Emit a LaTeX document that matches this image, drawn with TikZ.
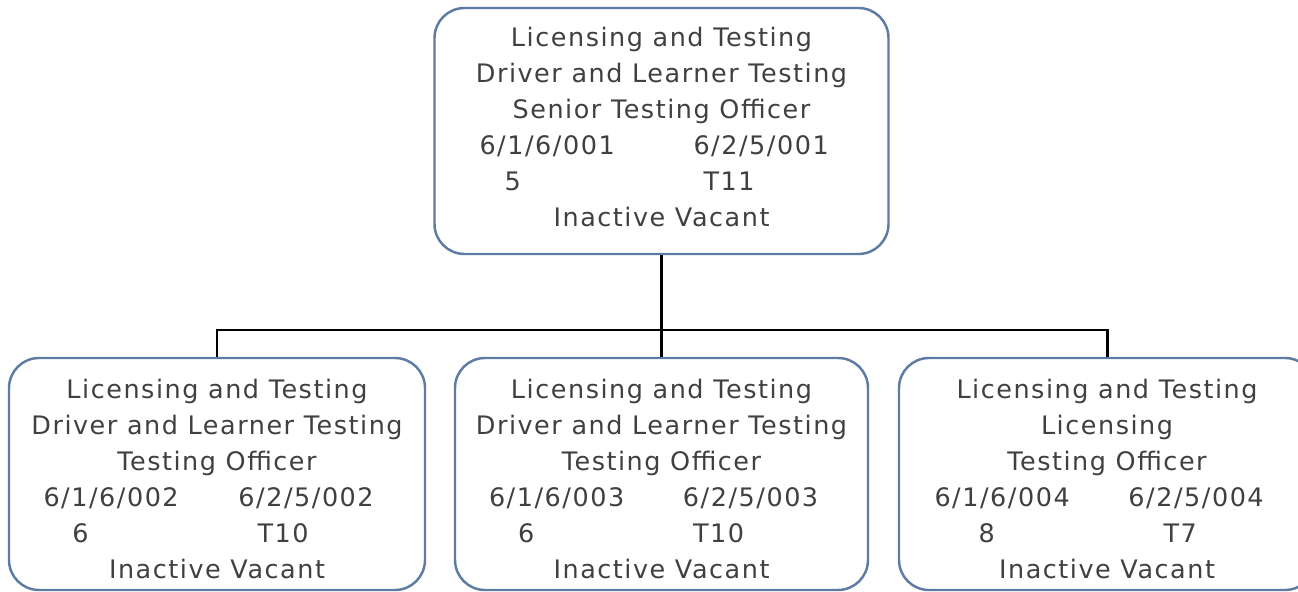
\documentclass[tikz,border=0pt]{standalone}
\usepackage{fontspec}
\setmainfont{DejaVu Sans}[LetterSpace=6]
\usepackage{tikz}

\definecolor{boxline}{RGB}{94,123,163}
\definecolor{boxtext}{RGB}{64,64,64}

% two codes on one line, each at its own offset
\newcommand{\numrow}[5]{\makebox[#1][l]{\rlap{\hspace*{#2}#3}\rlap{\hspace*{#4}#5}}}

\tikzset{
  post/.style={draw=boxline, line width=1.4pt, rounded corners=0.6cm, text=boxtext,
    align=center, inner sep=0pt, font=\fontsize{14.5}{20.5}\selectfont},
  link/.style={draw=black, line width=1.7pt},
}

\begin{document}
\begin{tikzpicture}
  \useasboundingbox (0,0) rectangle (25.96,-11.84);
  \node[post, minimum width=9.08cm, minimum height=4.92cm] (senior) at (13.23,-2.62)
    {Licensing and Testing\\Driver and Learner Testing\\Senior Testing Officer\\
     \numrow{7.28cm}{0cm}{6/1/6/001}{4.28cm}{6/2/5/001}\\
     \numrow{7.28cm}{0.5cm}{5}{4.48cm}{T11}\\Inactive Vacant\rule[-4.6pt]{0pt}{0pt}};
  \node[post, minimum width=8.32cm, minimum height=4.64cm] (left) at (4.34,-9.48)
    {\rule{0pt}{16.5pt}Licensing and Testing\\Driver and Learner Testing\\Testing Officer\\
     \numrow{6.94cm}{0cm}{6/1/6/002}{3.9cm}{6/2/5/002}\\
     \numrow{6.94cm}{0.58cm}{6}{4.28cm}{T10}\\Inactive Vacant};
  \node[post, minimum width=8.26cm, minimum height=4.64cm] (mid) at (13.23,-9.48)
    {\rule{0pt}{16.5pt}Licensing and Testing\\Driver and Learner Testing\\Testing Officer\\
     \numrow{6.9cm}{0cm}{6/1/6/003}{3.88cm}{6/2/5/003}\\
     \numrow{6.9cm}{0.58cm}{6}{4.08cm}{T10}\\Inactive Vacant};
  \node[post, minimum width=8.32cm, minimum height=4.64cm] (right) at (22.14,-9.48)
    {\rule{0pt}{16.5pt}Licensing and Testing\\Licensing\\Testing Officer\\
     \numrow{6.9cm}{0cm}{6/1/6/004}{3.88cm}{6/2/5/004}\\
     \numrow{6.9cm}{0.88cm}{8}{4.58cm}{T7}\\Inactive Vacant};

  \coordinate (bar) at (13.23,-6.6);
  \draw[link] (senior.south) -- (mid.north);
  \draw[link] (left.north) |- (bar) -| (right.north);
\end{tikzpicture}
\end{document}
